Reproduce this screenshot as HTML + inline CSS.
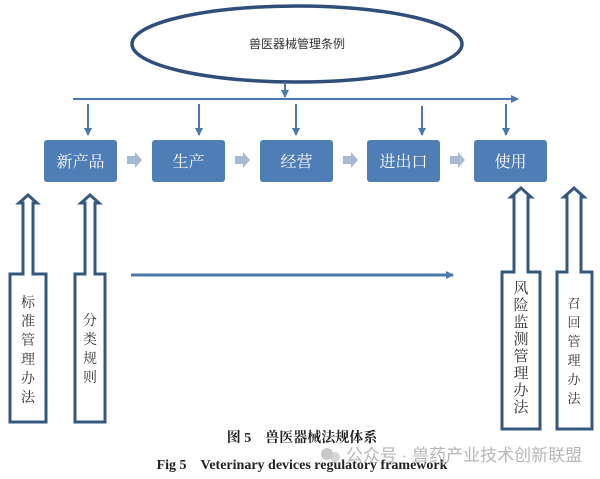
<!DOCTYPE html>
<html><head><meta charset="utf-8"><style>
html,body{margin:0;padding:0;background:#fff;}
svg{display:block;}
text{font-family:"Liberation Serif","Noto Serif CJK SC",serif;}
.cj{font-family:"Liberation Sans","Noto Sans CJK SC",sans-serif;}
</style></head><body>
<svg width="600" height="479" viewBox="0 0 600 479" xmlns="http://www.w3.org/2000/svg">
<defs>
<marker id="ah" markerWidth="8" markerHeight="8" refX="7" refY="4" orient="auto" markerUnits="userSpaceOnUse">
<path d="M0,0 L8,4 L0,8 z" fill="#4a78ad"/></marker>
</defs>
<ellipse cx="297" cy="44" rx="165" ry="38" fill="#fff" stroke="#2f4f78" stroke-width="3.5"/>
<text x="297" y="48" font-size="12" text-anchor="middle" fill="#333" class="cj">兽医器械管理条例</text>
<g stroke="#4a78ad" stroke-width="2" fill="none">
<line x1="285" y1="82" x2="285" y2="97" marker-end="url(#ah)"/>
<line x1="73" y1="99" x2="518" y2="99" marker-end="url(#ah)"/>
<line x1="88" y1="104" x2="88" y2="135" marker-end="url(#ah)"/>
<line x1="199" y1="104" x2="199" y2="135" marker-end="url(#ah)"/>
<line x1="296" y1="104" x2="296" y2="135" marker-end="url(#ah)"/>
<line x1="422" y1="106" x2="422" y2="135" marker-end="url(#ah)"/>
<line x1="506" y1="104" x2="506" y2="135" marker-end="url(#ah)"/>
<line x1="131" y1="275" x2="453" y2="275" stroke-width="3" marker-end="url(#ah)"/>
</g>
<g fill="#4f7db5">
<rect x="44" y="140" width="73" height="42" rx="3"/>
<rect x="152" y="140" width="73" height="42" rx="3"/>
<rect x="260" y="140" width="73" height="42" rx="3"/>
<rect x="367" y="140" width="73" height="42" rx="3"/>
<rect x="474" y="140" width="73" height="42" rx="3"/>
</g>
<g fill="#a9b9d1">
<path d="M127,156 h8 v-4 l7,8 l-7,8 v-4 h-8z"/>
<path d="M235,156 h8 v-4 l7,8 l-7,8 v-4 h-8z"/>
<path d="M343,156 h8 v-4 l7,8 l-7,8 v-4 h-8z"/>
<path d="M450,156 h8 v-4 l7,8 l-7,8 v-4 h-8z"/>
</g>
<g fill="#fff" font-size="16" text-anchor="middle" class="cj">
<text x="80.5" y="167">新产品</text>
<text x="188.5" y="167">生产</text>
<text x="296.5" y="167">经营</text>
<text x="403.5" y="167">进出口</text>
<text x="510.5" y="167">使用</text>
</g>
<g fill="none" stroke="#36587f" stroke-width="3" stroke-linejoin="miter">
<path d="M10,274 H23 V203 H19 L28,195 L37,203 H33 V274 H46 V422 H10 Z"/>
<path d="M75,274 H85 V203 H81 L90,195 L99,203 H95 V274 H105 V422 H75 Z"/>
<path d="M502,272 H514 V197 H511 L521,188 L531,197 H528 V272 H540 V429 H502 Z"/>
<path d="M557,272 H567 V197 H564 L574,188 L584,197 H581 V272 H592 V429 H557 Z"/>
</g>
<g font-size="14" fill="#333" text-anchor="middle">
<text x="28" y="307">标</text><text x="28" y="326">准</text><text x="28" y="345">管</text><text x="28" y="364">理</text><text x="28" y="383">办</text><text x="28" y="402">法</text>
<text x="90" y="325">分</text><text x="90" y="344">类</text><text x="90" y="363">规</text><text x="90" y="382">则</text>
<text x="521" y="293" font-size="15">风</text><text x="521" y="310" font-size="15">险</text><text x="521" y="327" font-size="15">监</text><text x="521" y="344" font-size="15">测</text><text x="521" y="361" font-size="15">管</text><text x="521" y="378" font-size="15">理</text><text x="521" y="395" font-size="15">办</text><text x="521" y="412" font-size="15">法</text>
<text x="574" y="308" font-size="13">召</text><text x="574" y="327" font-size="13">回</text><text x="574" y="346" font-size="13">管</text><text x="574" y="365" font-size="13">理</text><text x="574" y="384" font-size="13">办</text><text x="574" y="403" font-size="13">法</text>
</g>
<text x="302" y="442" font-size="14" font-weight="bold" text-anchor="middle" fill="#222">图 5　兽医器械法规体系</text>
<text x="302" y="469" font-size="14" font-weight="bold" text-anchor="middle" fill="#222">Fig 5　Veterinary devices regulatory framework</text>
<text x="346" y="461" font-size="17" fill="#aaa" class="cj" opacity="0.85">公众号 · 兽药产业技术创新联盟</text>
<circle cx="327" cy="454" r="6" fill="#bbb" opacity="0.8"/>
<circle cx="335" cy="457" r="5" fill="#ccc" opacity="0.8"/>
</svg>
</body></html>
